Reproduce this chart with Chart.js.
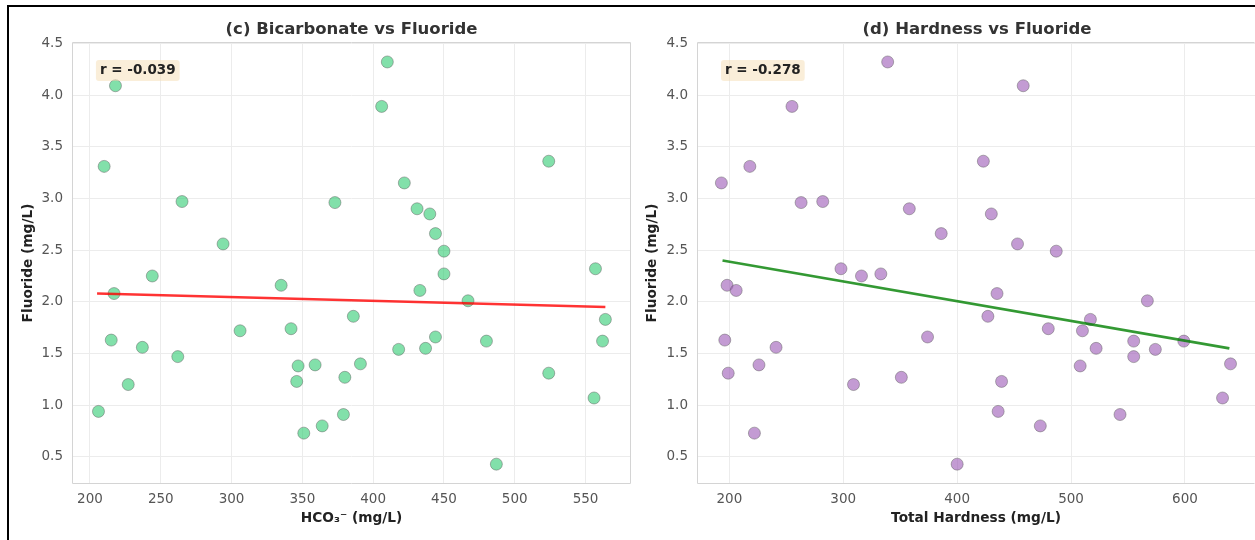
<!DOCTYPE html>
<html>
<head>
<meta charset="utf-8">
<script src="https://cdn.jsdelivr.net/npm/chart.js@4.4.1/dist/chart.umd.min.js"></script>
<style>
  html, body { margin: 0; padding: 0; background: #fff; }
  body { width: 1255px; height: 540px; overflow: hidden; position: relative; }
  #marcoHoja { position: absolute; left: 7px; top: 5px; width: 1246px; height: 533px;
               border-left: 2px solid #000; border-top: 2px solid #000; z-index: 2; pointer-events: none; }
  .panel { position: absolute; top: 0; height: 540px; }
  #panelC { left: 0; width: 640px; }
  #panelD { left: 640px; width: 615px; }
</style>
</head>
<body>
<div id="marcoHoja"></div>
<div class="panel" id="panelC"><canvas id="graficoC" width="640" height="540"></canvas></div>
<div class="panel" id="panelD"><canvas id="graficoD" width="615" height="540"></canvas></div>
<script>
// Valores (mismo pozo = mismo indice)
const fluoruro = [4.32, 4.09, 3.89, 3.36, 3.31, 3.15, 2.97, 2.96, 2.90, 2.85,
                  2.66, 2.56, 2.49, 2.32, 2.27, 2.25, 2.16, 2.11, 2.08, 2.01,
                  1.86, 1.83, 1.74, 1.72, 1.66, 1.63, 1.62, 1.62, 1.56, 1.55,
                  1.54, 1.47, 1.40, 1.39, 1.38, 1.31, 1.27, 1.23, 1.20, 1.07,
                  0.94, 0.91, 0.80, 0.73, 0.43];
const bicarbonato = [410, 218, 406, 524, 210, 422, 265, 373, 431, 440,
                     444, 294, 450, 557, 450, 244, 335, 433, 217, 467,
                     386, 564, 342, 306, 444, 215, 562, 480, 237, 437,
                     418, 262, 391, 359, 347, 524, 380, 346, 227, 556,
                     206, 379, 364, 351, 487];
const dureza = [339, 458, 255, 423, 218, 193, 282, 263, 358, 430,
                386, 453, 487, 298, 333, 316, 198, 206, 435, 567,
                427, 517, 480, 510, 374, 196, 555, 599, 241, 522,
                574, 555, 640, 226, 508, 199, 351, 439, 309, 633,
                436, 543, 473, 222, 400];

// lineas de tendencia (extremos)
const tendenciaCx = [205, 564];
const tendenciaCy = [2.08, 1.95];
const tendenciaDx = [194, 639];
const tendenciaDy = [2.40, 1.55];

const ticksBicarbonato = [200, 250, 300, 350, 400, 450, 500, 550];
const ticksDureza = [200, 300, 400, 500, 600];
const ticksFluoruro = [0.5, 1.0, 1.5, 2.0, 2.5, 3.0, 3.5, 4.0, 4.5];

const FUENTE = '"DejaVu Sans", "Liberation Sans", sans-serif';

function cajaRedondeada(ctx, x, y, w, h, r) {
    ctx.beginPath();
    ctx.moveTo(x + r, y);
    ctx.lineTo(x + w - r, y);
    ctx.quadraticCurveTo(x + w, y, x + w, y + r);
    ctx.lineTo(x + w, y + h - r);
    ctx.quadraticCurveTo(x + w, y + h, x + w - r, y + h);
    ctx.lineTo(x + r, y + h);
    ctx.quadraticCurveTo(x, y + h, x, y + h - r);
    ctx.lineTo(x, y + r);
    ctx.quadraticCurveTo(x, y, x + r, y);
    ctx.closePath();
}

// marco de ejes, titulo y caja con r
const pluginMarco = {
    id: "marco",
    afterDraw(chart, args, opts) {
        const { ctx, chartArea: a } = chart;
        ctx.save();
        ctx.strokeStyle = "#d4d4d4";
        ctx.lineWidth = 1;
        ctx.beginPath();
        ctx.moveTo(a.right - 0.5, a.top + 0.5);
        ctx.lineTo(a.left + 0.5, a.top + 0.5);
        ctx.lineTo(a.left + 0.5, a.bottom - 0.5);
        ctx.lineTo(a.right - 0.5, a.bottom - 0.5);
        if (opts.bordeDerecho) {
            ctx.lineTo(a.right - 0.5, a.top + 0.5);
        }
        ctx.stroke();

        // el titulo va centrado sobre los ejes originales
        ctx.font = "bold 16.5px " + FUENTE;
        ctx.fillStyle = "#333";
        ctx.textAlign = "center";
        ctx.textBaseline = "middle";
        ctx.fillText(opts.titulo, a.left + opts.anchoEjes / 2, 30);

        ctx.font = "bold 13.5px " + FUENTE;
        const tx = a.left + 0.05 * opts.anchoEjes;
        const ty = a.top + 0.05 * (a.bottom - a.top);
        const ancho = ctx.measureText(opts.etiqueta).width;
        ctx.fillStyle = "rgba(245, 222, 179, 0.5)";
        cajaRedondeada(ctx, tx - 4, ty - 4, ancho + 8, 21, 3);
        ctx.fill();
        ctx.fillStyle = "#222";
        ctx.textAlign = "left";
        ctx.textBaseline = "middle";
        ctx.fillText(opts.etiqueta, tx, ty + 6.5);
        ctx.restore();
    }
};

function crearGrafico(idCanvas, cfg) {
    const ctx = document.getElementById(idCanvas).getContext("2d");
    const puntos = cfg.xs.map((x, i) => ({ x: x, y: fluoruro[i] }));
    const linea = cfg.lineaX.map((x, i) => ({ x: x, y: cfg.lineaY[i] }));

    return new Chart(ctx, {
        type: "scatter",
        data: {
            datasets: [
                {
                    type: "line",
                    data: linea,
                    borderColor: cfg.colorLinea,
                    borderWidth: 2.6,
                    pointRadius: 0,
                    fill: false,
                    order: 0
                },
                {
                    data: puntos,
                    backgroundColor: cfg.colorPunto,
                    borderColor: "rgba(90, 90, 90, 0.45)",
                    borderWidth: 1,
                    pointRadius: 6,
                    order: 1
                }
            ]
        },
        options: {
            responsive: false,
            animation: false,
            devicePixelRatio: 1,
            layout: {
                autoPadding: false,
                padding: { top: 42, right: cfg.padDer, left: 0, bottom: 0 }
            },
            plugins: {
                legend: { display: false },
                tooltip: { enabled: false },
                marco: {
                    titulo: cfg.titulo,
                    etiqueta: cfg.etiqueta,
                    anchoEjes: cfg.anchoEjes,
                    bordeDerecho: cfg.bordeDerecho
                }
            },
            scales: {
                x: {
                    type: "linear",
                    min: cfg.xMin,
                    max: cfg.xMax,
                    afterBuildTicks: eje => { eje.ticks = cfg.ticksX.map(v => ({ value: v })); },
                    afterFit: eje => { eje.height = 56; },
                    grid: { color: "#ececec", drawTicks: false },
                    border: { display: false },
                    ticks: { padding: 7, color: "#555", font: { family: FUENTE, size: 13.5 } },
                    title: {
                        display: true,
                        text: cfg.tituloX,
                        color: "#222",
                        font: { family: FUENTE, size: 13.7, weight: "bold" },
                        padding: { top: 0, bottom: 13.8 }
                    }
                },
                y: {
                    min: 0.238,
                    max: 4.513,
                    afterBuildTicks: eje => { eje.ticks = ticksFluoruro.map(v => ({ value: v })); },
                    afterFit: eje => { eje.width = cfg.anchoY; },
                    grid: { color: "#ececec", drawTicks: false },
                    border: { display: false },
                    ticks: {
                        padding: 9,
                        color: "#555",
                        font: { family: FUENTE, size: 13.5 },
                        callback: v => v.toFixed(1)
                    },
                    title: {
                        display: true,
                        text: "Fluoride (mg/L)",
                        color: "#222",
                        font: { family: FUENTE, size: 13.7, weight: "bold" },
                        padding: { top: cfg.padTituloY, bottom: 0 }
                    }
                }
            }
        },
        plugins: [pluginMarco]
    });
}

crearGrafico("graficoC", {
    xs: bicarbonato,
    lineaX: tendenciaCx,
    lineaY: tendenciaCy,
    ticksX: ticksBicarbonato,
    xMin: 187.3,
    xMax: 582.1,
    anchoY: 72,
    anchoEjes: 559,
    padDer: 9,
    padTituloY: 19.8,
    bordeDerecho: true,
    colorPunto: "rgba(46, 204, 113, 0.6)",
    colorLinea: "rgba(255, 0, 0, 0.8)",
    titulo: "(c) Bicarbonate vs Fluoride",
    etiqueta: "r = -0.039",
    tituloX: "HCO₃⁻ (mg/L)"
});

// el panel derecho queda cortado por el borde de la imagen
crearGrafico("graficoD", {
    xs: dureza,
    lineaX: tendenciaDx,
    lineaY: tendenciaDy,
    ticksX: ticksDureza,
    xMin: 171.6,
    xMax: 661.5,
    anchoY: 57,
    anchoEjes: 560,
    padDer: 0,
    padTituloY: 4.2,
    bordeDerecho: false,
    colorPunto: "rgba(155, 89, 182, 0.6)",
    colorLinea: "rgba(0, 128, 0, 0.8)",
    titulo: "(d) Hardness vs Fluoride",
    etiqueta: "r = -0.278",
    tituloX: "Total Hardness (mg/L)"
});
</script>
</body>
</html>
